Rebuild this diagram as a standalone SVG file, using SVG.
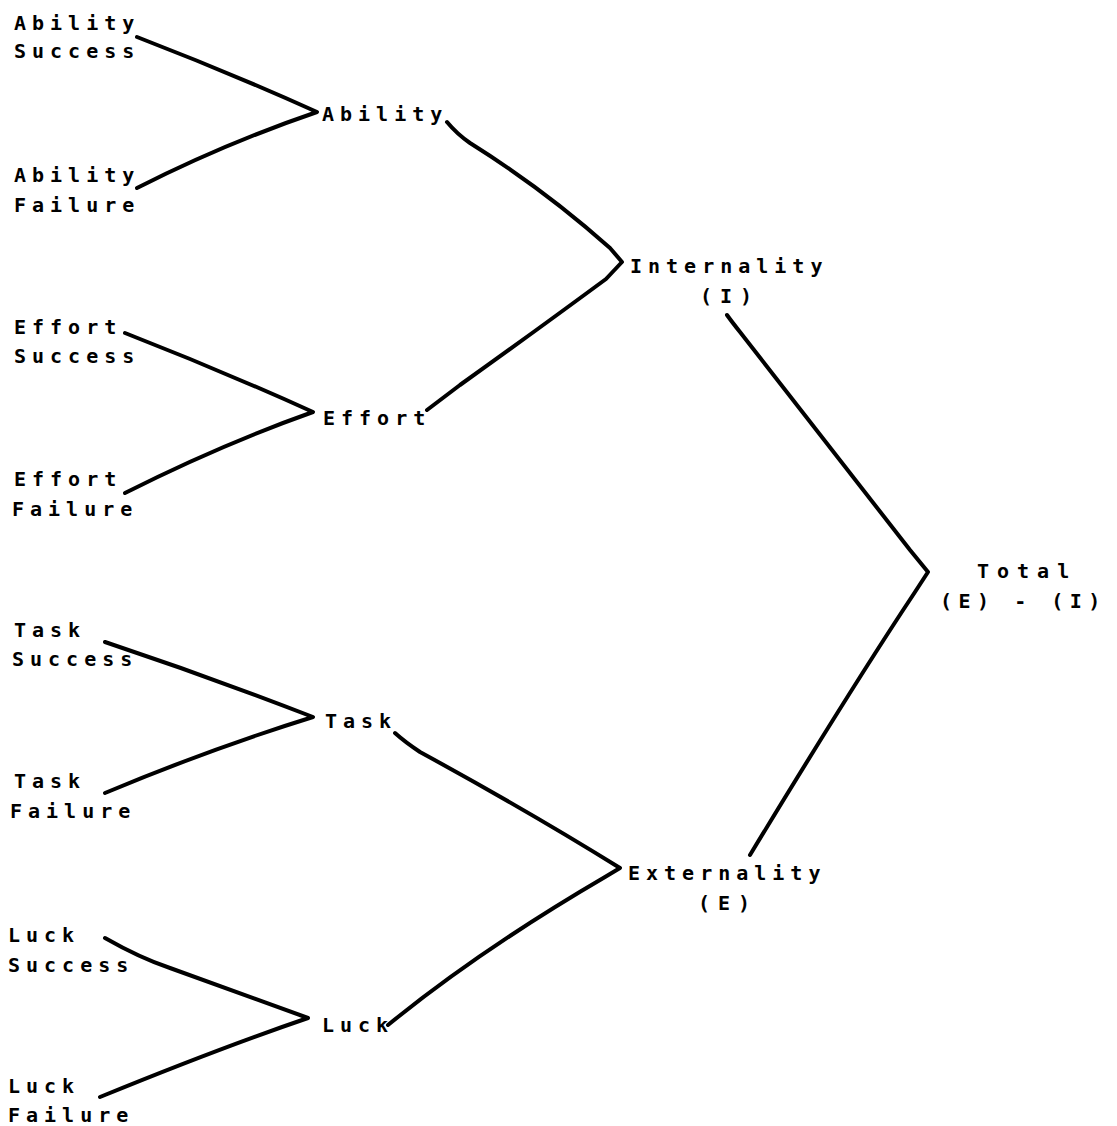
<svg xmlns="http://www.w3.org/2000/svg" width="1117" height="1126" viewBox="0 0 1117 1126">
<style>
text{font-family:"DejaVu Sans Mono","Liberation Mono",monospace;font-weight:bold;font-size:20px;letter-spacing:6px;fill:#000}
.w{letter-spacing:8px}
.t{letter-spacing:6.5px}
.c{fill:none;stroke:#000;stroke-width:4;stroke-linecap:round;stroke-linejoin:round}
</style>
<rect width="1117" height="1126" fill="#fff"/>
<g id="connectors">
<path class="c" d="M137,37 Q228,72 317,112 Q226,143 137,188"/>
<path class="c" d="M125,333 Q220,370 313,412 Q220,445 125,493"/>
<path class="c" d="M105,642 Q210,677 313,717 Q210,749 105,793"/>
<path class="c" d="M105,938 Q140,958 170,968 L308,1018 Q220,1048 100,1097"/>
<path class="c" d="M447,122 Q457,134 470,143 Q545,190 610,248 L622,262 L606,279 Q530,335 460,385 L427,410"/>
<path class="c" d="M395,733 Q405,742 420,752 Q530,812 620,868 L605,877 Q480,950 388,1025"/>
<path class="c" d="M727,315 Q732,322 740,332 Q840,460 910,550 L928,572 L915,592 Q850,690 750,855"/>
</g>
<g id="ability-success"><text x="14" y="30">Ability</text><text x="14" y="58">Success</text></g>
<g id="ability-failure"><text x="14" y="182">Ability</text><text x="14" y="212">Failure</text></g>
<g id="ability"><text x="322" y="121">Ability</text></g>
<g id="effort-success"><text x="14" y="334">Effort</text><text x="14" y="363">Success</text></g>
<g id="effort-failure"><text x="14" y="486">Effort</text><text x="12" y="516">Failure</text></g>
<g id="effort"><text x="323" y="425">Effort</text></g>
<g id="internality"><text x="630" y="273">Internality</text><text x="700" y="303" class="w">(I)</text></g>
<g id="task-success"><text x="14" y="637">Task</text><text x="12" y="666">Success</text></g>
<g id="task-failure"><text x="14" y="788">Task</text><text x="10" y="818">Failure</text></g>
<g id="task"><text x="325" y="728">Task</text></g>
<g id="luck-success"><text x="8" y="942">Luck</text><text x="8" y="972">Success</text></g>
<g id="luck-failure"><text x="8" y="1093">Luck</text><text x="8" y="1122">Failure</text></g>
<g id="luck"><text x="322" y="1032">Luck</text></g>
<g id="externality"><text x="628" y="880">Externality</text><text x="698" y="910" class="w">(E)</text></g>
<g id="total"><text x="977" y="578" class="w">Total</text><text x="940" y="608" class="t">(E) - (I)</text></g>
</svg>
